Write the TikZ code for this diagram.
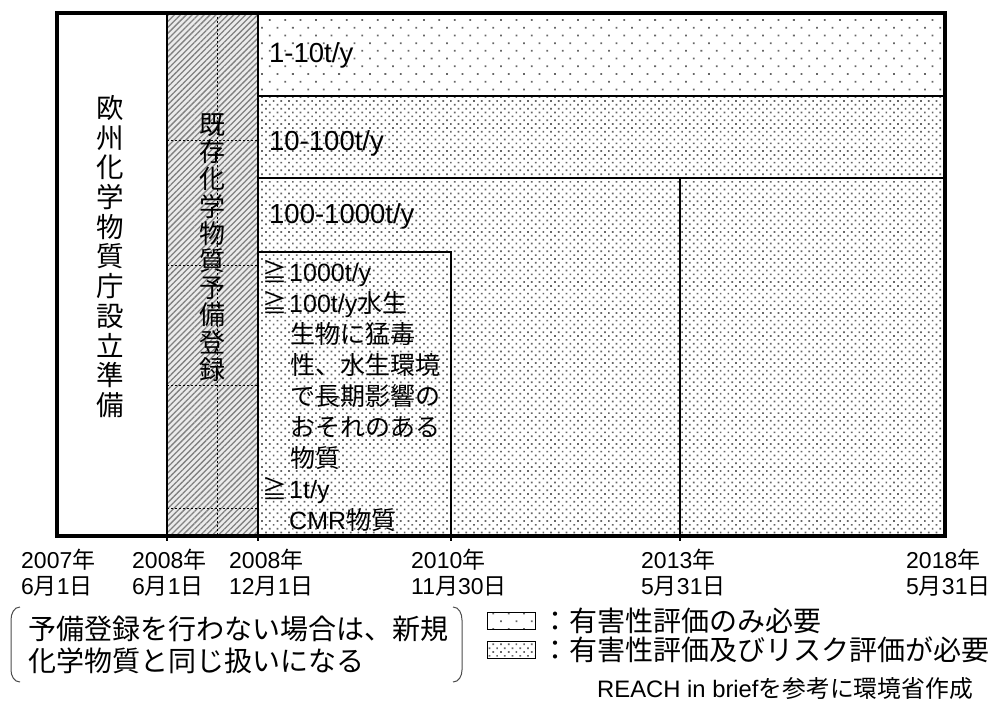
\documentclass[tikz,border=0pt]{standalone}
\usepackage{fontspec}
\setmainfont{Liberation Sans}
\newfontfamily\jp{Noto Sans CJK JP}
\newcommand\J[1]{{\jp #1}}
\usetikzlibrary{patterns.meta}
\begin{document}
\begin{tikzpicture}[x=1pt,y=-1pt,
  frameline/.style={line width=4.5pt},
  rule/.style={line width=2pt},
  gridline/.style={line width=0.7pt, dash pattern=on 2pt off 2pt},
  sparse/.style={pattern={Dots[distance=10.9pt,radius=1.25pt,angle=45]}, pattern color=black!60},
  dense/.style={pattern={Dots[distance=5.45pt,radius=1.2pt,angle=45]}, pattern color=black!60},
  hatch/.style={pattern={Lines[angle=45,distance=4.2pt,line width=1.3pt]}, pattern color=black!50},
  lbl/.style={inner sep=0pt, anchor=base west, font=\fontsize{27.5}{30}\selectfont},
  boxtxt/.style={inner sep=0pt, anchor=base west, font=\fontsize{25}{31}\selectfont},
  datetxt/.style={inner sep=0pt, anchor=base west, font=\fontsize{23}{26}\selectfont},
  coltxt/.style={inner sep=0pt, align=center, font=\jp\fontsize{27.5}{29.7}\selectfont},
  coltxtb/.style={inner sep=0pt, align=center, font=\jp\fontsize{26}{27.2}\selectfont},
  notetxt/.style={inner sep=0pt, anchor=base west, font=\jp\fontsize{28}{32}\selectfont},
  bracket/.style={line width=1pt, draw=black!70},
]
\useasboundingbox (0,0) rectangle (989,706);

% fills
\fill[black!8] (167,13) rectangle (258,536);
\fill[hatch] (167,13) rectangle (258,536);
\fill[sparse] (258,13) rectangle (945,96);
\fill[dense] (258,96) rectangle (945,536);

% dashed guide lines in the hatched column
\draw[gridline] (217,13) -- (217,536);
\foreach \yy in {140,265,385,508} \draw[gridline] (167,\yy) -- (258,\yy);

% rules
\draw[rule] (167,13) -- (167,541);
\draw[rule] (258,13) -- (258,541);
\draw[rule] (258,96) -- (945,96);
\draw[rule] (258,178) -- (945,178);
\draw[rule] (680,178) -- (680,541);
\draw[rule] (258,252) -- (451,252) -- (451,541);
\draw[frameline] (57,13) -- (945,13) -- (945,536) -- (57,536) -- cycle;

% column texts
\node[coltxt] (agency) at (110,256.5) {欧\\州\\化\\学\\物\\質\\庁\\設\\立\\準\\備};
\node[coltxtb] (prereg) at (212.5,247.5) {既\\存\\化\\学\\物\\質\\予\\備\\登\\録};

% band labels
\node[lbl] (r1) at (269,63) {1-10t/y};
\node[lbl] (r2) at (269,151) {10-100t/y};
\node[lbl] (r3) at (269,224) {100-1000t/y};

% box text
\node[boxtxt] (b1) at (262.5,281) {\J{≧}};
\node[boxtxt] (b1t) at (289,281) {1000t/y};
\node[boxtxt] (b2) at (262.5,312) {\J{≧}};
\node[boxtxt] (b2t) at (289,312) {100t/y\J{水生}};
\node[boxtxt] (b3) at (290,343) {\J{生物に猛毒}};
\node[boxtxt] (b4) at (290,374) {\J{性、水生環境}};
\node[boxtxt] (b5) at (290,405) {\J{で長期影響の}};
\node[boxtxt] (b6) at (290,436) {\J{おそれのある}};
\node[boxtxt] (b7) at (290,467) {\J{物質}};
\node[boxtxt] (b8) at (262.5,498) {\J{≧}};
\node[boxtxt] (b8t) at (289,498) {1t/y};
\node[boxtxt] (b9) at (289,529) {CMR\J{物質}};

% dates
\node[datetxt] (d1a) at (21,568) {2007\J{年}};
\node[datetxt] (d1b) at (21,594) {6\J{月}1\J{日}};
\node[datetxt] (d2a) at (132,568) {2008\J{年}};
\node[datetxt] (d2b) at (132,594) {6\J{月}1\J{日}};
\node[datetxt] (d3a) at (229,568) {2008\J{年}};
\node[datetxt] (d3b) at (229,594) {12\J{月}1\J{日}};
\node[datetxt] (d4a) at (411,568) {2010\J{年}};
\node[datetxt] (d4b) at (411,594) {11\J{月}30\J{日}};
\node[datetxt] (d5a) at (641,568) {2013\J{年}};
\node[datetxt] (d5b) at (641,594) {5\J{月}31\J{日}};
\node[datetxt] (d6a) at (906,568) {2018\J{年}};
\node[datetxt] (d6b) at (906,594) {5\J{月}31\J{日}};

% bracketed note
\draw[bracket] (20,607) to[out=180,in=90] (11,620) -- (11,670) to[out=-90,in=180] (20,682);
\draw[bracket] (453,607) to[out=0,in=90] (462,620) -- (462,670) to[out=-90,in=0] (453,682);
\node[notetxt] (n1) at (28,639) {予備登録を行わない場合は、新規};
\node[notetxt] (n2) at (28,671) {化学物質と同じ扱いになる};

% legend
\draw[line width=0.8pt, sparse] (487,612) rectangle (535,629);
\draw[line width=0.8pt, dense] (487,641) rectangle (535,658);
\node[notetxt] (l1) at (541,631) {：有害性評価のみ必要};
\node[notetxt] (l2) at (541,660) {：有害性評価及びリスク評価が必要};

% source
\node[inner sep=0pt, anchor=base east, font=\fontsize{23.8}{26}\selectfont] (src) at (973,697) {REACH in brief\J{を参考に環境省作成}};
\end{tikzpicture}
\end{document}
